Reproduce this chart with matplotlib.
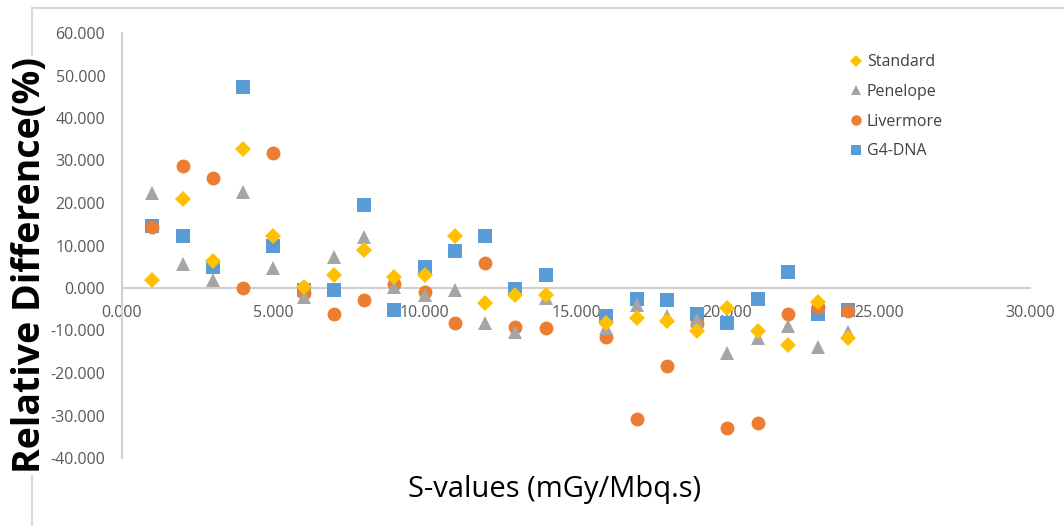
import matplotlib
matplotlib.use("Agg")
import matplotlib.pyplot as plt
from matplotlib.lines import Line2D

x_vals = [1, 2, 3, 4, 5, 6, 7, 8, 9, 10, 11, 12, 13, 14, 16, 17, 18, 19, 20, 21, 22, 23, 24]
standard = [1.9, 20.9, 6.4, 32.6, 12.2, 0.3, 3.1, 8.9, 2.7, 3.1, 12.2, -3.6, -1.6, -1.6,
            -8.2, -7.1, -7.7, -10.0, -4.8, -10.0, -13.4, -3.2, -11.8]
penelope = [22.3, 5.6, 2.0, 22.7, 4.6, -2.0, 7.4, 12.1, 0.3, -1.6, -0.5, -8.3, -10.3, -2.4,
            -9.5, -4.0, -6.5, -7.5, -15.2, -11.8, -8.9, -13.8, -10.3]
livermore = [14.4, 28.7, 26.0, 0.0, 31.7, -1.1, -6.1, -2.8, 0.9, -0.9, -8.3, 5.8, -9.1, -9.5,
             -11.5, -30.9, -18.3, -8.5, -32.9, -31.7, -6.0, -4.5, -5.3]
g4dna = [14.6, 12.2, 4.9, 47.4, 9.9, -0.5, -0.5, 19.5, -5.2, 5.0, 8.8, 12.2, -0.3, 3.1,
         -6.5, -2.6, -2.8, -6.1, -8.2, -2.6, 3.8, -6.0, -5.2]

series_names = ["Standard", "Penelope", "Livermore", "G4-DNA"]
colors = ["#FFC000", "#A5A5A5", "#ED7D31", "#5B9BD5"]
markers = ["D", "^", "o", "s"]
msizes = [8, 10, 10, 9.5]

x_ticks = [0, 5, 10, 15, 20, 25, 30]
y_ticks = [-40, -30, -20, -10, 0, 10, 20, 30, 40, 50, 60]

plt.rcParams['font.family'] = ['Open Sans', 'DejaVu Sans']

fig = plt.figure(figsize=(10.64, 5.26), dpi=100)

# outer chart frame (partially visible at left/top)
fig.add_artist(Line2D([32/1064, 32/1064], [0, 1-8/526], transform=fig.transFigure,
                      color='#D9D9D9', lw=1.5, zorder=0))
fig.add_artist(Line2D([32/1064, 1], [1-8/526, 1-8/526], transform=fig.transFigure,
                      color='#D9D9D9', lw=1.5, zorder=0))

ax = fig.add_axes([122/1064, 1-458/526, (1030-122)/1064, (458-33)/526])
ax.patch.set_alpha(0)

data = [standard, penelope, livermore, g4dna]
zorders = [6, 5, 4, 3]
for name, vals, c, m, ms, z in zip(series_names, data, colors, markers, msizes, zorders):
    ax.plot(x_vals, vals, linestyle='none', marker=m, color=c, markersize=ms,
            markeredgewidth=0, label=name, zorder=z)

ax.set_xlim(0, 30)
ax.set_ylim(-40, 60)
ax.set_xticks(x_ticks)
ax.set_yticks(y_ticks)
ax.set_xticklabels([f"{v:.3f}" for v in x_ticks])
ax.set_yticklabels([f"{v:.3f}" for v in y_ticks])

for s in ['top', 'right']:
    ax.spines[s].set_visible(False)
ax.spines['bottom'].set_position(('data', 0))
ax.spines['bottom'].set_color('#D0D0D0')
ax.spines['left'].set_color('#D0D0D0')
ax.spines['bottom'].set_linewidth(1.5)
ax.spines['left'].set_linewidth(1.5)
ax.tick_params(axis='both', length=0, labelsize=11.5, labelcolor='#595959')
ax.tick_params(axis='x', pad=12)
ax.tick_params(axis='y', pad=12)

fig.text(555/1064, 1-490/526, "S-values (mGy/Mbq.s)", ha='center', va='center',
         fontsize=21, color='#000000')
fig.text(30/1064, 1-265/526, "Relative Difference(%)", ha='center', va='center',
         rotation=90, fontsize=27, fontweight='bold', color='#000000',
         bbox=dict(facecolor='white', edgecolor='none', pad=1))

leg = ax.legend(loc='upper left', bbox_to_anchor=(834/1064, 1-40/526),
                bbox_transform=fig.transFigure, frameon=False, fontsize=11.5,
                labelspacing=0.85, handletextpad=0.15, handlelength=1.0, markerscale=0.75)
for t in leg.get_texts():
    t.set_color('#404040')

fig.savefig("out.png", dpi=100)
